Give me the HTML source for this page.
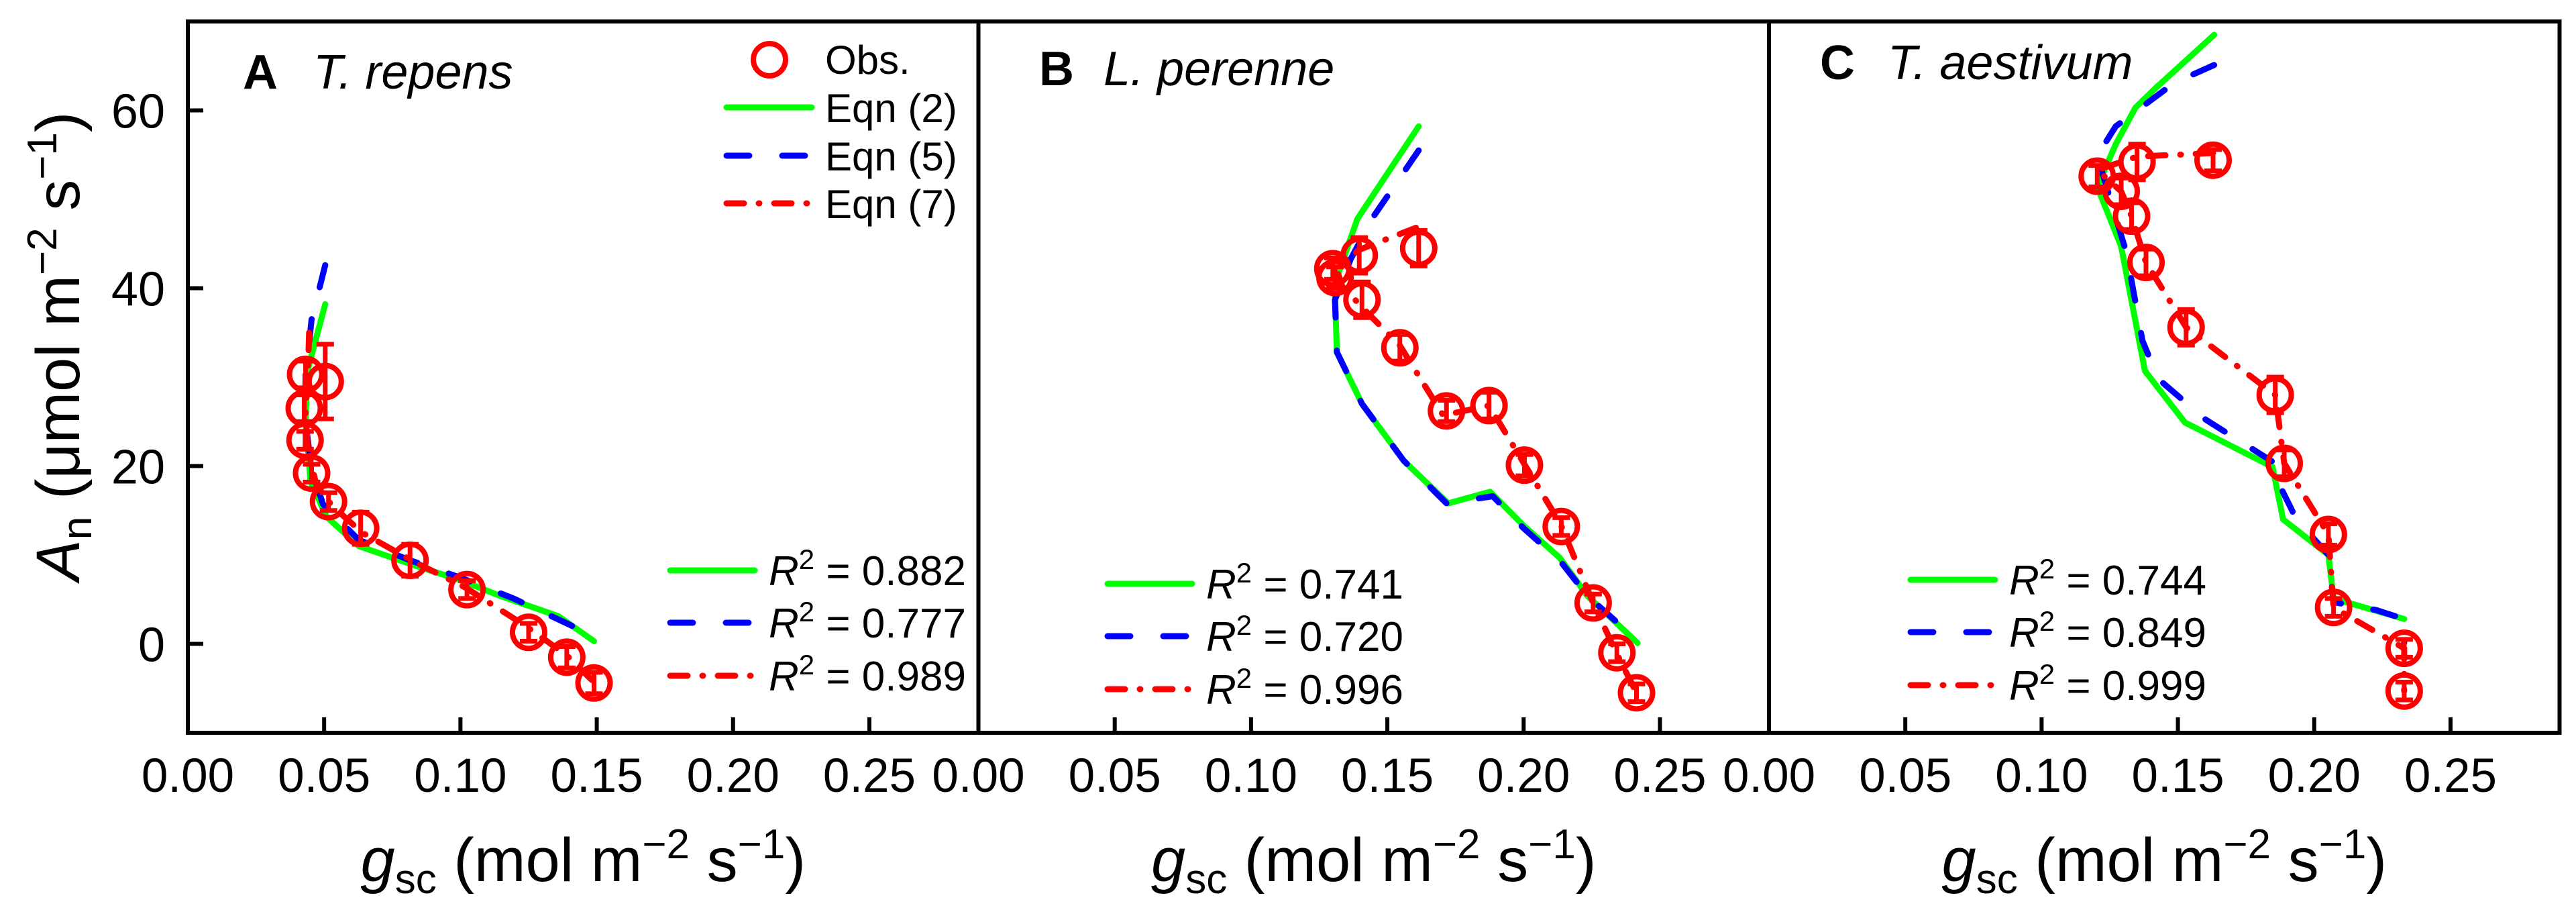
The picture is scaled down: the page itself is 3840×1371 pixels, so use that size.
<!DOCTYPE html>
<html><head><meta charset="utf-8"><title>Gas exchange panels</title>
<style>
html,body{margin:0;padding:0;background:#fff;}
svg{display:block;font-family:"Liberation Sans",Arial,sans-serif;}
</style></head>
<body>
<svg id="chart" width="3840" height="1371" viewBox="0 0 3840 1371" xmlns="http://www.w3.org/2000/svg">
<rect x="0" y="0" width="3840" height="1371" fill="#fff"/>
<g id="plots"></g>
<text transform="translate(118,516) rotate(-90)" text-anchor="middle" font-size="92"><tspan font-style="italic">A</tspan><tspan font-size="62" dy="18">n</tspan><tspan dy="-18"> (μmol m</tspan><tspan font-size="62" dy="-34">−2</tspan><tspan dy="34"> s</tspan><tspan font-size="62" dy="-34">−1</tspan><tspan dy="34">)</tspan></text>
</svg>
<script>
// ---- data (g_sc, A_n) ----
const xTicks = [0.00, 0.05, 0.10, 0.15, 0.20, 0.25];
const xTickLabels = ["0.00","0.05","0.10","0.15","0.20","0.25"];
const yTicks = [0, 20, 40, 60];
const yTickLabels = ["0","20","40","60"];

// Panel A - T. repens
const aObsX = [0.0432,0.0504,0.0427,0.0430,0.0454,0.0516,0.0634,0.0815,0.1024,0.1250,0.1390,0.1490];
const aObsY = [30.3,29.5,26.5,22.9,19.2,16.0,13.0,9.4,6.1,1.3,-1.5,-4.4];
const aObsErr = [1.5,4.2,1.5,1.0,1.0,1.0,1.8,1.8,1.0,1.0,1.2,1.2];
const aEq2X = [0.0504,0.0437,0.0432,0.0450,0.0509,0.0627,0.0815,0.1005,0.1146,0.1360,0.1490];
const aEq2Y = [38.2,30.5,24.9,18.3,14.3,11.0,9.0,7.1,5.4,3.1,0.3];
const aEq5X = [0.0504,0.0454,0.0432,0.0432,0.0454,0.0496,0.0627,0.0815,0.1005,0.1195,0.1418];
const aEq5Y = [42.6,36.5,30.2,24.9,19.6,15.7,11.7,9.4,7.4,5.1,1.9];
const aEq7X = [0.0445,0.0440,0.0432,0.0440,0.0470,0.0530,0.0640,0.0820,0.1020,0.1240,0.1390,0.1490];
const aEq7Y = [35.0,30.0,26.0,22.0,18.0,15.5,12.5,9.4,6.3,2.0,-1.3,-4.3];
const aR2 = ["0.882","0.777","0.989"];

// Panel B - L. perenne
const bObsX = [0.1300,0.1308,0.1397,0.1615,0.1407,0.1546,0.1717,0.1873,0.2003,0.2138,0.2255,0.2342,0.2414];
const bObsY = [42.2,41.2,43.7,44.5,38.7,33.3,26.2,26.8,20.1,13.2,4.6,-1.0,-5.5];
const bObsErr = [1.2,1.2,2.0,2.0,2.0,1.5,1.2,1.5,1.2,1.0,1.0,1.0,1.0];
const bEq2X = [0.1615,0.1390,0.1321,0.1308,0.1315,0.1407,0.1560,0.1723,0.1877,0.2000,0.2132,0.2234,0.2418];
const bEq2Y = [58.2,47.8,41.7,39.4,32.8,27.0,20.6,15.8,17.1,13.3,9.7,5.4,0.1];
const bEq5X = [0.1615,0.1448,0.1366,0.1308,0.1315,0.1407,0.1560,0.1717,0.1887,0.2000,0.2132,0.2234,0.2336];
const bEq5Y = [55.5,48.0,43.3,38.7,32.8,27.0,20.6,15.8,16.6,13.0,9.4,5.4,2.6];
const bEq7X = [0.1605,0.1395,0.1315,0.1335,0.1425,0.1545,0.1705,0.1873,0.2003,0.2135,0.2255,0.2340,0.2414];
const bEq7Y = [46.8,44.3,42.0,40.2,37.3,33.6,25.7,26.8,20.2,13.5,4.6,-1.0,-5.5];
const bR2 = ["0.741","0.720","0.996"];

// Panel C - T. aestivum
const cObsX = [0.1204,0.1350,0.1629,0.1292,0.1330,0.1383,0.1530,0.1857,0.1890,0.2052,0.2071,0.2330,0.2330];
const cObsY = [52.6,54.2,54.4,50.9,48.1,42.9,35.6,28.0,20.3,12.3,4.1,-0.5,-5.3];
const cObsErr = [1.2,2.0,1.2,1.5,1.5,1.5,2.0,2.0,1.5,1.2,1.0,1.0,1.0];
const cEq2X = [0.1633,0.1418,0.1344,0.1272,0.1204,0.1292,0.1379,0.1526,0.1847,0.1886,0.2052,0.2071,0.2330];
const cEq2Y = [68.5,62.5,60.3,56.2,51.4,44.7,30.7,24.9,19.9,14.0,10.0,5.1,2.8];
const cEq5X = [0.1633,0.1487,0.1272,0.1204,0.1253,0.1311,0.1370,0.1428,0.1603,0.1857,0.1877,0.1935,0.2052,0.2071,0.2227,0.2330,0.2330];
const cEq5Y = [65.1,63.1,58.2,54.9,49.9,44.0,34.1,29.8,25.2,20.3,17.6,14.0,10.0,4.7,3.8,2.8,0.1];
const cEq7X = [0.1629,0.1350,0.1204,0.1292,0.1330,0.1383,0.1530,0.1857,0.1890,0.2052,0.2071,0.2330,0.2330];
const cEq7Y = [55.2,54.8,53.3,50.9,48.1,42.9,35.6,28.0,20.3,12.3,4.1,-0.5,-5.3];
const cR2 = ["0.744","0.849","0.999"];

// ---- layout ----
const NS = "http://www.w3.org/2000/svg";
const TOP = 32, BOT = 1092, PW = 1178.5;
const X_MAX = 0.29, Y_MIN = -10, Y_MAX = 70;
const GREEN = "#00ff00", BLUE = "#0000ff", RED = "#ff0000";
const LW = 9;
const plots = document.getElementById("plots");

function mk(tag, attrs, parent) {
  const e = document.createElementNS(NS, tag);
  for (const k in attrs) e.setAttribute(k, attrs[k]);
  (parent || plots).appendChild(e);
  return e;
}
function yScale(v) { return BOT - (v - Y_MIN) / (Y_MAX - Y_MIN) * (BOT - TOP); }

const panels = [
  {key:"a", left:280, letter:"A", name:"T. repens", lx:362, nx:467, ly:132,
   obsX:aObsX, obsY:aObsY, err:aObsErr, e2x:aEq2X, e2y:aEq2Y, e5x:aEq5X, e5y:aEq5Y, e7x:aEq7X, e7y:aEq7Y, r2:aR2,
   r2x0:995, r2y:[850,928,1007], eqLegend:true},
  {key:"b", left:1458.5, letter:"B", name:"L. perenne", lx:1549, nx:1645, ly:127,
   obsX:bObsX, obsY:bObsY, err:bObsErr, e2x:bEq2X, e2y:bEq2Y, e5x:bEq5X, e5y:bEq5Y, e7x:bEq7X, e7y:bEq7Y, r2:bR2,
   r2x0:1647, r2y:[870,948,1027], eqLegend:false},
  {key:"c", left:2637, letter:"C", name:"T. aestivum", lx:2713, nx:2814, ly:118,
   obsX:cObsX, obsY:cObsY, err:cObsErr, e2x:cEq2X, e2y:cEq2Y, e5x:cEq5X, e5y:cEq5Y, e7x:cEq7X, e7y:cEq7Y, r2:cR2,
   r2x0:2844, r2y:[864,942,1021], eqLegend:false}
];

const styles = {
  eq2: {stroke:GREEN, dash:"none"},
  eq5: {stroke:BLUE, dash:"34 49"},
  eq7: {stroke:RED, dash:"26 22 1 22"}
};

panels.forEach(function(p) {
  const xs = function(v){ return p.left + v / X_MAX * PW; };
  const g = mk("g", {});
  
  

  const fr = mk("rect", {x:p.left, y:TOP, width:PW, height:BOT-TOP, fill:"none", stroke:"#000", "stroke-width":6}, g);
  
  

  xTicks.forEach(function(t, i) {
    const x = xs(t);
    if (t > 0) {
      const tk = mk("line", {x1:x, x2:x, y1:BOT, y2:BOT-23, stroke:"#000", "stroke-width":6}, g);
      
      
    }
    const lb = mk("text", {x:x, y:1180, "text-anchor":"middle", "font-size":71}, g);
    lb.textContent = xTickLabels[i];
    
    
  });

  if (p.key === "a") {
    yTicks.forEach(function(t, i) {
      const y = yScale(t);
      const tk = mk("line", {x1:p.left, x2:p.left+23, y1:y, y2:y, stroke:"#000", "stroke-width":6}, g);
      
      
      const lb = mk("text", {x:246, y:y+26, "text-anchor":"end", "font-size":72}, g);
      lb.textContent = yTickLabels[i];
      
      
    });
  }

  const xt = mk("text", {x:p.left+PW/2, y:1313, "text-anchor":"middle", "font-size":92}, g);
  
  
  xt.innerHTML = '<tspan font-style="italic">g</tspan><tspan font-size="62" dy="18">sc</tspan><tspan dy="-18"> (mol m</tspan><tspan font-size="62" dy="-34">−2</tspan><tspan dy="34"> s</tspan><tspan font-size="62" dy="-34">−1</tspan><tspan dy="34">)</tspan>';

  const pl = mk("text", {x:p.lx, y:p.ly, "font-size":72, "font-weight":"bold"}, g);
  pl.textContent = p.letter;
  
  
  const pn = mk("text", {x:p.nx, y:p.ly, "font-size":72, "font-style":"italic"}, g);
  pn.textContent = p.name;
  
  

  function drawLine(X, Y, st, nm) {
    let d = "";
    for (let i = 0; i < X.length; i++) d += (i ? "L" : "M") + xs(X[i]).toFixed(1) + " " + yScale(Y[i]).toFixed(1);
    const pth = mk("path", {d:d, fill:"none", stroke:st.stroke, "stroke-width":LW, "stroke-dasharray":st.dash, "stroke-linejoin":"round", "stroke-linecap":"round"}, g);
    
    
  }
  drawLine(p.e2x, p.e2y, styles.eq2, 'eqn2-line');
  drawLine(p.e5x, p.e5y, styles.eq5, 'eqn5-line');
  drawLine(p.e7x, p.e7y, styles.eq7, 'eqn7-line');

  for (let i = 0; i < p.obsX.length; i++) {
    const cx = xs(p.obsX[i]), cy = yScale(p.obsY[i]);
    const y1 = yScale(p.obsY[i] + p.err[i]), y2 = yScale(p.obsY[i] - p.err[i]);
    const eb = mk("path", {d:"M"+cx+" "+y1+"V"+y2+"M"+(cx-13)+" "+y1+"h26M"+(cx-13)+" "+y2+"h26", stroke:RED, "stroke-width":7, fill:"none"}, g);
    
    
    const c = mk("circle", {cx:cx, cy:cy, r:24, fill:"none", stroke:RED, "stroke-width":8}, g);
    
    
  }

  const keys = ["eq2","eq5","eq7"];
  keys.forEach(function(k, i) {
    const y = p.r2y[i];
    const ln = mk("line", {x1:p.r2x0+4, x2:p.r2x0+130, y1:y, y2:y, stroke:styles[k].stroke, "stroke-width":LW, "stroke-dasharray":styles[k].dash, "stroke-linecap":"round"}, g);
    
    
    const tx = mk("text", {x:p.r2x0+151, y:y+22, "font-size":62}, g);
    tx.innerHTML = '<tspan font-style="italic">R</tspan><tspan font-size="42" dy="-24">2</tspan><tspan dy="24"> = ' + p.r2[i] + '</tspan>';
    
    
  });

  if (p.eqLegend) {
    const oc = mk("circle", {cx:1147, cy:89, r:24, fill:"none", stroke:RED, "stroke-width":8}, g);
    
    
    const ot = mk("text", {x:1230, y:110, "font-size":60}, g);
    ot.textContent = "Obs.";
    
    
    const labels = ["Eqn (2)","Eqn (5)","Eqn (7)"];
    const ys = [160,232,303];
    keys.forEach(function(k, i) {
      const ln = mk("line", {x1:1083, x2:1210, y1:ys[i], y2:ys[i], stroke:styles[k].stroke, "stroke-width":LW, "stroke-dasharray":styles[k].dash, "stroke-linecap":"round"}, g);
      
      
      const tx = mk("text", {x:1230, y:ys[i]+22, "font-size":60}, g);
      tx.textContent = labels[i];
      
      
    });
  }
});
</script>
</body></html>
